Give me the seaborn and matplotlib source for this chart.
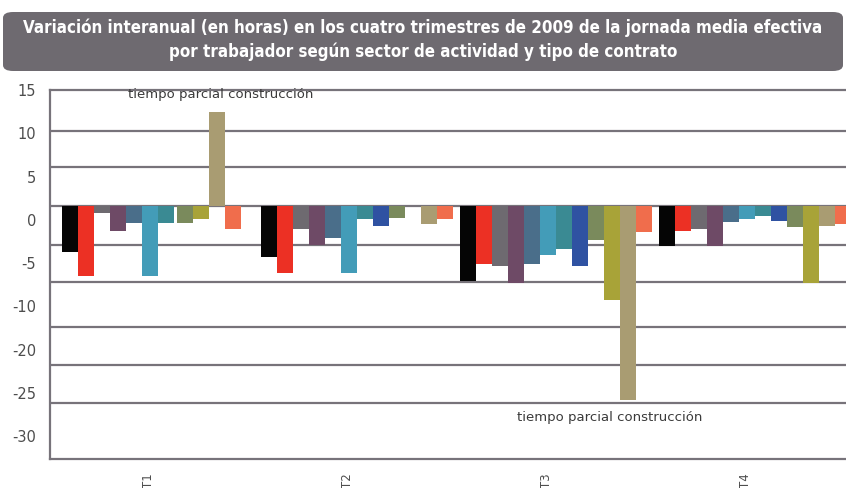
import numpy as np
import pandas as pd
import matplotlib
matplotlib.use("Agg")
import matplotlib.pyplot as plt
import matplotlib.transforms as mtransforms
from matplotlib.patches import FancyBboxPatch
import seaborn as sns

# Quarters and series (sector de actividad x tipo de contrato)
trimestres = ["T1", "T2", "T3", "T4"]
series = [
    "s01", "s02", "s03", "s04", "s05", "s06",
    "s07", "s08", "s09", "s10", "s11", "s12",
]
colores = [
    "#050505", "#ec3024", "#6e6a70", "#6e4a66", "#4a6e8a", "#439cb8",
    "#3a8a93", "#2f52a2", "#7a8a5c", "#a8a338", "#a99c72", "#f06d4c",
]

# Year-on-year change in hours, one list per series (T1..T4)
s01 = [-6.2, -6.8, -10.0, -5.4]
s02 = [-9.3, -8.9, -7.7, -3.3]
s03 = [-1.0, -3.1, -8.0, -3.1]
s04 = [-3.4, -5.2, -10.3, -5.4]
s05 = [-2.3, -4.3, -7.7, -2.2]
s06 = [-9.3, -8.9, -6.5, -1.8]
s07 = [-2.3, -1.7, -5.7, -1.3]
s08 = [np.nan, -2.7, -8.0, -2.0]
s09 = [-2.3, -1.6, -4.5, -2.8]
s10 = [-1.7, np.nan, -12.5, -10.3]
s11 = [12.4, -2.4, -25.9, -2.7]
s12 = [-3.1, -1.7, -3.5, -2.4]
valores = [s01, s02, s03, s04, s05, s06, s07, s08, s09, s10, s11, s12]

etiqueta = "tiempo parcial construcción"
titulo = ("Variación interanual (en horas) en los cuatro trimestres de 2009 de la jornada media efectiva\n"
          "por trabajador según sector de actividad y tipo de contrato")
y_labels = ["15", "10", "5", "0", "-5", "-10", "-20", "-25", "-30"]

df = pd.DataFrame(
    [(t, s, v) for s, vals in zip(series, valores) for t, v in zip(trimestres, vals)],
    columns=["trimestre", "serie", "horas"],
).dropna()

sns.set_theme(style="white")
plt.rcParams["font.family"] = ["DejaVu Sans"]

fig = plt.figure(figsize=(8.46, 4.88), dpi=100)
W, H = 846, 488
ax = fig.add_axes([50 / W, 29 / H, 796 / W, 369 / H])

group_width = 0.965
sns.barplot(
    data=df, x="trimestre", y="horas", hue="serie",
    order=trimestres, hue_order=series, palette=dict(zip(series, colores)),
    width=group_width, gap=0, dodge=True, errorbar=None, saturation=1,
    edgecolor="none", linewidth=0, legend=False, ax=ax, zorder=3,
)

# In the first quarter the bars after the empty slot close up
slot = group_width / len(series)
gap_idx = series.index("s08")
for cont, name in zip(ax.containers, series):
    if series.index(name) <= gap_idx:
        continue
    for bar in cont.patches:
        xc = bar.get_x() + bar.get_width() / 2
        if int(round(xc)) == 0:
            bar.set_x(bar.get_x() - slot * 0.8)

ax.set_xlim(-0.543, 3.457)
ax.set_ylim(-33.68, 14.87)

# Horizontal rules
line_col = "#77737a"
grid_levels = [10.0, 5.13, 0.0, -5.26, -10.13, -16.18, -21.18, -26.18]
for g in grid_levels:
    ax.axhline(g, color=line_col, lw=1.6, zorder=1)

for side in ["left", "bottom", "top"]:
    ax.spines[side].set_color(line_col)
    ax.spines[side].set_linewidth(1.6)
    ax.spines[side].set_zorder(1)
ax.spines["right"].set_visible(False)

ax.set_yticks(np.linspace(15.39, -30.66, len(y_labels)))
ax.set_yticklabels(y_labels)
ax.tick_params(axis="y", length=0, pad=10, labelsize=10.5, labelcolor="#4d4d4d")
ax.tick_params(axis="x", length=0, pad=10, labelsize=8.5, labelcolor="#4d4d4d")
ax.set_xticks(range(len(trimestres)))
ax.set_xticklabels(trimestres, rotation=90, va="top", ha="center")
shift = mtransforms.ScaledTranslation(-10 / 100, 0, fig.dpi_scale_trans)
for lbl in ax.get_xticklabels():
    lbl.set_transform(lbl.get_transform() + shift)
ax.set_xlabel("")
ax.set_ylabel("")

ax.text(-0.151, 14.74, etiqueta, ha="left", va="center", fontsize=9.5,
        color="#3a3a3a", zorder=5)
ax.text(1.804, -28.16, etiqueta, ha="left", va="center", fontsize=9.5,
        color="#3a3a3a", zorder=5)

# Title banner
box = FancyBboxPatch((3 / W, 1 - 71 / H), 840 / W, 59 / H,
                     boxstyle="round,pad=0,rounding_size=0.012",
                     transform=fig.transFigure, facecolor="#6e6a70",
                     edgecolor="none")
fig.patches.append(box)
fig.text(0.5, 1 - 40 / H, titulo, ha="center", va="center", color="white",
         fontsize=12.2, fontweight="bold", fontstretch="condensed",
         family=["DejaVu Sans"], linespacing=1.4)

fig.savefig("out.png", dpi=100)
